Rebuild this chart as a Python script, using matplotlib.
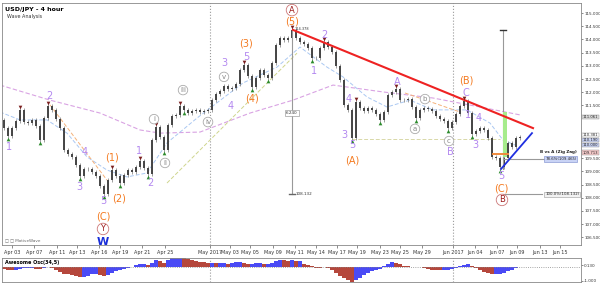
import matplotlib
matplotlib.use("Agg")
import matplotlib.pyplot as plt
import numpy as np

# 4h closes, one point per ~4 chart px
closes = [110.95, 110.64, 110.34, 110.64, 110.91, 111.33, 110.87, 110.83, 110.95, 110.72,
          110.19, 111.02, 111.48, 111.33, 110.98, 110.64, 109.81, 109.66, 109.55, 109.24,
          108.83, 109.09, 109.09, 108.98, 108.83, 108.45, 108.14, 108.67, 109.05, 108.83,
          108.56, 108.86, 109.05, 108.98, 109.17, 109.39, 109.13, 108.90, 110.19, 110.68,
          110.30, 109.81, 110.76, 111.10, 111.14, 111.48, 111.33, 111.21, 111.29, 111.33,
          111.25, 111.29, 111.33, 111.70, 111.93, 112.05, 112.23, 112.12, 112.16, 112.31,
          112.84, 113.03, 112.61, 112.20, 112.54, 112.84, 112.65, 112.54, 113.11, 113.79,
          114.05, 113.98, 114.05, 114.36, 114.05, 113.90, 113.83, 113.67, 113.30, 113.30,
          113.67, 113.90, 113.71, 113.52, 112.99, 112.46, 111.52, 111.33, 110.27, 111.63,
          111.40, 111.29, 111.40, 111.33, 111.17, 110.95, 111.25, 111.89, 112.01, 112.12,
          111.70, 111.70, 111.74, 111.44, 111.02, 111.33, 111.40, 111.36, 111.29, 111.10,
          110.98, 110.91, 110.64, 110.87, 111.17, 111.48, 111.67, 111.21, 110.42, 110.53,
          110.64, 110.57, 110.27, 109.55, 109.51, 109.15, 109.51, 110.08, 109.92, 110.27,
          110.30]

# awesome oscillator values
ao = [-0.08, -0.15, -0.2, -0.25, -0.2, -0.15, -0.08, -0.08, -0.08, -0.13,
      -0.15, -0.1, 0.0, -0.08, -0.25, -0.4, -0.5, -0.55, -0.6, -0.65,
      -0.72, -0.72, -0.65, -0.55, -0.5, -0.6, -0.65, -0.6, -0.45, -0.33,
      -0.2, -0.15, -0.1, 0.0, 0.15, 0.22, 0.25, 0.18, 0.3, 0.5,
      0.45, 0.3, 0.5, 0.7, 0.82, 0.82, 0.77, 0.6, 0.5, 0.45,
      0.4, 0.35, 0.3, 0.3, 0.28, 0.3, 0.3, 0.25, 0.3, 0.35,
      0.4, 0.3, 0.22, 0.22, 0.3, 0.3, 0.2, 0.2, 0.3, 0.45,
      0.55, 0.5, 0.45, 0.5, 0.45, 0.45, 0.25, 0.15, 0.05, -0.05,
      -0.08, -0.03, -0.08, -0.25, -0.45, -0.65, -0.85, -0.97, -1.1, -0.97,
      -0.8, -0.6, -0.45, -0.33, -0.2, -0.15, 0.05, 0.25, 0.35, 0.3,
      0.2, 0.1, 0.05, 0.0, -0.03, 0.0, -0.08, -0.15, -0.2, -0.23,
      -0.25, -0.2, -0.2, -0.15, -0.08, 0.05, 0.15, 0.2, 0.1, -0.1,
      -0.25, -0.35, -0.45, -0.55, -0.55, -0.55, -0.45, -0.33, -0.2, -0.1,
      -0.03]

# moving averages (read as waypoints)
ma_slow_x = [0, 12.5, 25, 35, 40, 50, 62.5, 73.25, 83.25, 95.75, 108.25, 120, 130]
ma_slow_y = [112.27, 111.70, 111.21, 110.57, 110.45, 110.49, 111.21, 111.70, 112.27, 112.01, 111.78, 111.44, 111.14]
ma_fast_x = [0, 5, 11.75, 16.75, 21.75, 26.75, 31.75, 36.75, 41.75, 49.25, 60.75, 69.25, 75,
             81.75, 85.75, 91.75, 96.75, 102.5, 108.25, 116.75, 122.5, 125.75, 128.75]
ma_fast_y = [111.25, 110.95, 110.95, 110.45, 109.55, 109.05, 108.79, 108.94, 110.08, 111.02, 112.35, 112.95, 113.71,
             112.95, 112.58, 111.82, 111.44, 111.70, 111.33, 111.33, 110.83, 110.19, 110.0]

date_pos = [3, 8.5, 14.25, 19.25, 24.75, 30, 35.5, 41.25, 52.5, 57.5, 62.5, 68.25, 73.75,
            79, 84.25, 89.25, 95, 100, 105.5, 113.25, 118.75, 124.25, 129.25, 135, 140]
date_labels = ["Apr 03", "Apr 07", "Apr 11", "Apr 13", "Apr 16", "Apr 19", "Apr 21", "Apr 25",
               "May 2017", "May 03", "May 05", "May 09", "May 11", "May 14", "May 17", "May 19",
               "May 23", "May 25", "May 29", "Jun 2017", "Jun 04", "Jun 07", "Jun 09", "Jun 13", "Jun 15"]
month_lines = [52.5, 113.25]

price_ticks = [106.5, 107.0, 107.5, 108.0, 108.5, 109.0, 109.5, 111.5, 112.0, 112.5, 113.0, 113.5, 114.0, 114.5, 115.0]
price_tags = [111.061, 110.381, 110.190, 110.000, 109.713]
tag_colors = ["#dddddd", "#ffffff", "#c9d3f5", "#c9d3f5", "#f5c9c9"]

low_pivots = [2, 10, 20, 26, 30, 37, 41, 46, 63, 67, 78, 88, 95, 104, 112, 118, 125]
high_pivots = [5, 12, 28, 35, 39, 45, 61, 73, 81, 89, 99, 116]

# wave labels: (text, bar, price)
purple_labels = [("1", 2.25, 109.92), ("2", 12.25, 111.86), ("3", 19.75, 108.41), ("4", 21.25, 109.73),
                 ("5", 25.75, 107.88), ("1", 34.75, 109.77), ("2", 37.5, 108.56), ("3", 56, 113.11),
                 ("4", 57.75, 111.48), ("5", 61.5, 113.33), ("1", 78.5, 112.80), ("2", 81, 114.17),
                 ("3", 86, 110.38), ("4", 87.25, 111.74), ("5", 88, 110.0), ("A", 99.25, 112.39),
                 ("B", 112.5, 109.73), ("C", 116.5, 111.97), ("1", 117, 111.14), ("4", 119.75, 111.02),
                 ("3", 118.75, 110.0), ("5", 125.25, 108.83)]
orange_labels = [("(1)", 28, 109.51), ("(2)", 29.75, 107.99), ("(C)", 25.75, 107.31), ("(3)", 61.5, 113.83),
                 ("(4)", 63, 111.78), ("(5)", 73, 114.66), ("(A)", 88, 109.43), ("(B)", 116.5, 112.46),
                 ("(C)", 125.25, 108.37)]
red_circled = [("A", 73, 115.11), ("Y", 25.75, 106.82), ("B", 125.5, 107.92)]
gray_circled = [("i", 38.5, 110.98), ("ii", 41.25, 109.32), ("iii", 45.75, 112.08), ("iv", 52, 110.87),
                ("v", 56, 112.58), ("a", 103.75, 110.61), ("b", 106.25, 111.74), ("c", 112.25, 110.15)]

fig = plt.figure(figsize=(6, 2.84), dpi=100)
ax = fig.add_axes([2 / 600, 1 - 245 / 284, 579 / 600, 242 / 284])
ax2 = fig.add_axes([2 / 600, 1 - 282 / 284, 579 / 600, 24 / 284])
ymin, ymax = 106.212, 115.379

x = np.arange(len(closes))
c = np.array(closes)
prev = np.r_[c[0], c[:-1]]
ax.vlines(x, np.minimum(prev, c) - 0.07, np.maximum(prev, c) + 0.07, color="#777777", lw=0.5, zorder=3)
ax.vlines(x, np.minimum(prev, c), np.maximum(prev, c), color="#444444", lw=1.4, zorder=3)

ax.plot(ma_slow_x, ma_slow_y, color="#d9a3e3", ls=(0, (4, 2)), lw=0.8, zorder=2)
ax.plot(ma_fast_x, ma_fast_y, color="#aac8f2", ls=(0, (4, 2)), lw=0.7, zorder=2)
ax.plot([12.5, 26.75], [111.52, 108.67], color="#f5b27a", ls=(0, (4, 2)), lw=0.7, zorder=2)
ax.plot([101.25, 115], [111.97, 111.25], color="#f5b27a", ls=(0, (4, 2)), lw=0.7, zorder=2)
ax.plot([41.75, 74.25], [108.56, 113.48], color="#cfd58e", ls=(0, (4, 2)), lw=0.7, zorder=2)
ax.plot([88, 125], [110.23, 110.23], color="#d8d8a8", ls=(0, (4, 2)), lw=0.7, zorder=2)

for m in month_lines:
    ax.axvline(m, color="#999999", ls=":", lw=0.8, zorder=1)
    ax2.axvline(m, color="#999999", ls=":", lw=0.8, zorder=1)

# trend lines
ax.plot([73.25, 133.25], [114.36, 110.64], color="#ee2222", lw=1.5, zorder=5)
ax.plot([125.25, 133], [109.09, 110.45], color="#1f2fe0", lw=1.3, zorder=5)

# measurement lines
ax.plot([73, 73], [114.37, 108.13], color="#999999", lw=0.8, zorder=4)
ax.plot([72.2, 73.8], [108.13, 108.13], color="#666666", lw=1.0, zorder=4)
ax.text(73, 111.21, "6.240", fontsize=3, ha="center", va="center", color="#333333",
        bbox=dict(boxstyle="square,pad=0.2", fc="white", ec="#888888", lw=0.4), zorder=6)
ax.text(74, 108.16, "108.132", fontsize=3, ha="left", va="center", color="#333333")
ax.text(73.6, 114.38, "114.378", fontsize=2.5, ha="left", va="center", color="#333333")

ax.plot([125.75, 125.75], [114.37, 109.1], color="#999999", lw=0.8, zorder=4)
ax.plot([124.9, 126.6], [114.37, 114.37], color="#333333", lw=1.0, zorder=4)
ax.fill_between([125.75, 126.85], 109.55, 111.25, color="#a6ec8c", lw=0, zorder=4)
ax.plot([123.25, 127], [109.66, 109.66], color="#f08a3c", lw=1.4, zorder=5)
ax.plot([125.75, 136.5], [109.465, 109.465], color="#999999", lw=0.8, zorder=4)
ax.plot([125.75, 135.5], [108.132, 108.132], color="#999999", lw=0.8, zorder=4)
ax.text(135, 109.72, "B vs A (Zig Zag)", fontsize=3, ha="left", va="center", color="#222222", fontweight="bold")
ax.text(136.3, 109.465, "78.6%(109.465)", fontsize=2.8, ha="left", va="center", color="#222222",
        bbox=dict(boxstyle="square,pad=0.2", fc="#c9d3f5", ec="#7788cc", lw=0.4), zorder=6)
ax.text(136.3, 108.132, "100.0%(108.132)", fontsize=2.8, ha="left", va="center", color="#222222",
        bbox=dict(boxstyle="square,pad=0.2", fc="#f2f2f2", ec="#999999", lw=0.4), zorder=6)

# pivot markers
ax.scatter(low_pivots, c[low_pivots] - 0.12, marker="^", s=7, color="#2b8a2b", zorder=6, lw=0)
ax.scatter(high_pivots, c[high_pivots] + 0.12, marker="v", s=7, color="#7a1f1f", zorder=6, lw=0)

# wave labels
for t, xi, yi in purple_labels:
    ax.text(xi, yi, t, color="#b388f0", fontsize=7, ha="center", va="center", zorder=7)
for t, xi, yi in orange_labels:
    ax.text(xi, yi, t, color="#f47a20", fontsize=7, ha="center", va="center", zorder=7)
for t, xi, yi in red_circled:
    ax.text(xi, yi, t, color="#9e1b1b", fontsize=6, ha="center", va="center", zorder=7,
            bbox=dict(boxstyle="circle,pad=0.15", fc="white", ec="#c77", lw=0.6))
for t, xi, yi in gray_circled:
    ax.text(xi, yi, t, color="#888888", fontsize=5, ha="center", va="center", zorder=7,
            bbox=dict(boxstyle="circle,pad=0.25", fc="white", ec="#aaaaaa", lw=0.6))
ax.text(25.75, 106.33, "W", color="#1a2fd8", fontsize=8, fontweight="bold", ha="center", va="center", zorder=7)

ax.text(0.006, 0.985, "USD/JPY - 4 hour", transform=ax.transAxes, fontsize=4.5, fontweight="bold", va="top")
ax.text(0.009, 0.955, "Wave Analysis", transform=ax.transAxes, fontsize=3.5, va="top", color="#333333")
ax.text(0.005, 0.012, "\u25a1 \u25a1 MotiveWave", transform=ax.transAxes, fontsize=3, va="bottom", color="#666666")

# right price axis
ax.set_xlim(0.5, 145.25)
ax.set_ylim(ymin, ymax)
ax.yaxis.tick_right()
ax.set_yticks(price_ticks)
ax.set_yticklabels([f"{v:.3f}" for v in price_ticks])
ax.tick_params(axis="y", labelsize=3, length=1.5, pad=0.8, width=0.4, colors="#333333")
ax.set_xticks(date_pos)
ax.set_xticklabels(date_labels)
ax.tick_params(axis="x", labelsize=3.5, length=2, pad=1.5, width=0.4, colors="#333333")
for s in ax.spines.values():
    s.set_color("#888888")
    s.set_linewidth(0.6)

# price tags
for val, fc in zip(price_tags, tag_colors):
    ax.text(1.003, (val - ymin) / (ymax - ymin), f"{val:.3f}", transform=ax.transAxes,
            fontsize=2.7, va="center", ha="left", color="#222222", clip_on=False,
            bbox=dict(boxstyle="square,pad=0.1", fc=fc, ec="#888888", lw=0.3))

# awesome oscillator
ao_arr = np.array(ao)
ao_prev = np.r_[ao_arr[0], ao_arr[:-1]]
colors = np.where(ao_arr >= ao_prev, "#4a4af5", "#b5473c")
ax2.bar(x, ao_arr, width=1.0, color=colors, lw=0)
ax2.axhline(0, color="#888888", ls=":", lw=0.6)
ax2.set_xlim(0.5, 145.25)
ax2.set_ylim(-1.11, 0.667)
ax2.set_xticks([])
ax2.yaxis.tick_right()
ax2.set_yticks([0.13, -1.0])
ax2.set_yticklabels(["0.130", "-1.000"])
ax2.tick_params(axis="y", labelsize=3, length=1.5, pad=0.8, width=0.4, colors="#333333")
ax2.text(0.005, 0.93, "Awesome Osc(34,5)", transform=ax2.transAxes, fontsize=3.5, fontweight="bold", va="top")
for s in ax2.spines.values():
    s.set_color("#888888")
    s.set_linewidth(0.6)

fig.savefig("out.png", dpi=100)
